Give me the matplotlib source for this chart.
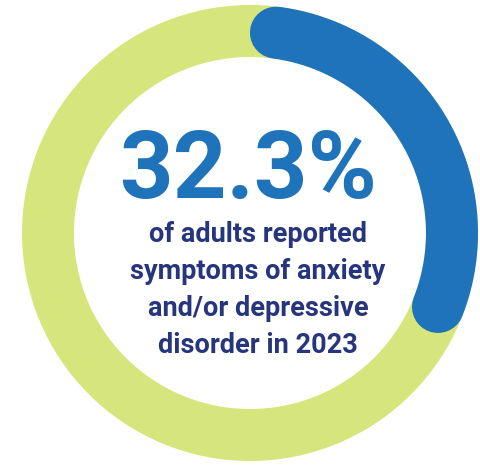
import numpy as np
import matplotlib
matplotlib.use("Agg")
import matplotlib.pyplot as plt
from matplotlib.patches import Wedge

# Data
share_value = 32.3            # percent of adults
headline = "32.3%"
caption_lines = ["of adults reported", "symptoms of anxiety",
                 "and/or depressive", "disorder in 2023"]

W, H, DPI = 481, 465, 100
fig = plt.figure(figsize=(W / DPI, H / DPI), dpi=DPI)
ax = fig.add_axes([0, 0, 1, 1])
ax.set_xlim(0, W)
ax.set_ylim(H, 0)
ax.set_aspect("equal")
ax.axis("off")

cx, cy = 250, 233
R_out, ring_w = 228, 52
R_mid = R_out - ring_w / 2

green = "#d6e67c"
blue = "#1f73ba"
navy = "#26357c"

# background ring
ax.add_patch(Wedge((cx, cy), R_out, 0, 360, width=ring_w, facecolor=green,
                   edgecolor="none"))

# value arc (clockwise from 12 o'clock, rounded ends inside the share)
cap_deg = np.degrees((ring_w / 2) / R_mid)
sweep = share_value / 100 * 360
t = np.radians(np.linspace(cap_deg, sweep - 0.65 * cap_deg, 200))
xs = cx + R_mid * np.sin(t)
ys = cy - R_mid * np.cos(t)
lw_pt = ring_w * 72 / DPI
ax.plot(xs, ys, color=blue, lw=lw_pt, solid_capstyle="round")

font = "Roboto"
ax.text(248, 198, headline, ha="center", va="baseline", fontsize=67.5,
        fontweight="bold", color=blue, family=font)

baselines = [242, 279, 316, 353]
for line, yb in zip(caption_lines, baselines):
    ax.text(258, yb, line, ha="center", va="baseline", fontsize=19.5,
            fontweight="bold", color=navy, family=font)

fig.savefig("out.png", dpi=DPI, facecolor="white")
